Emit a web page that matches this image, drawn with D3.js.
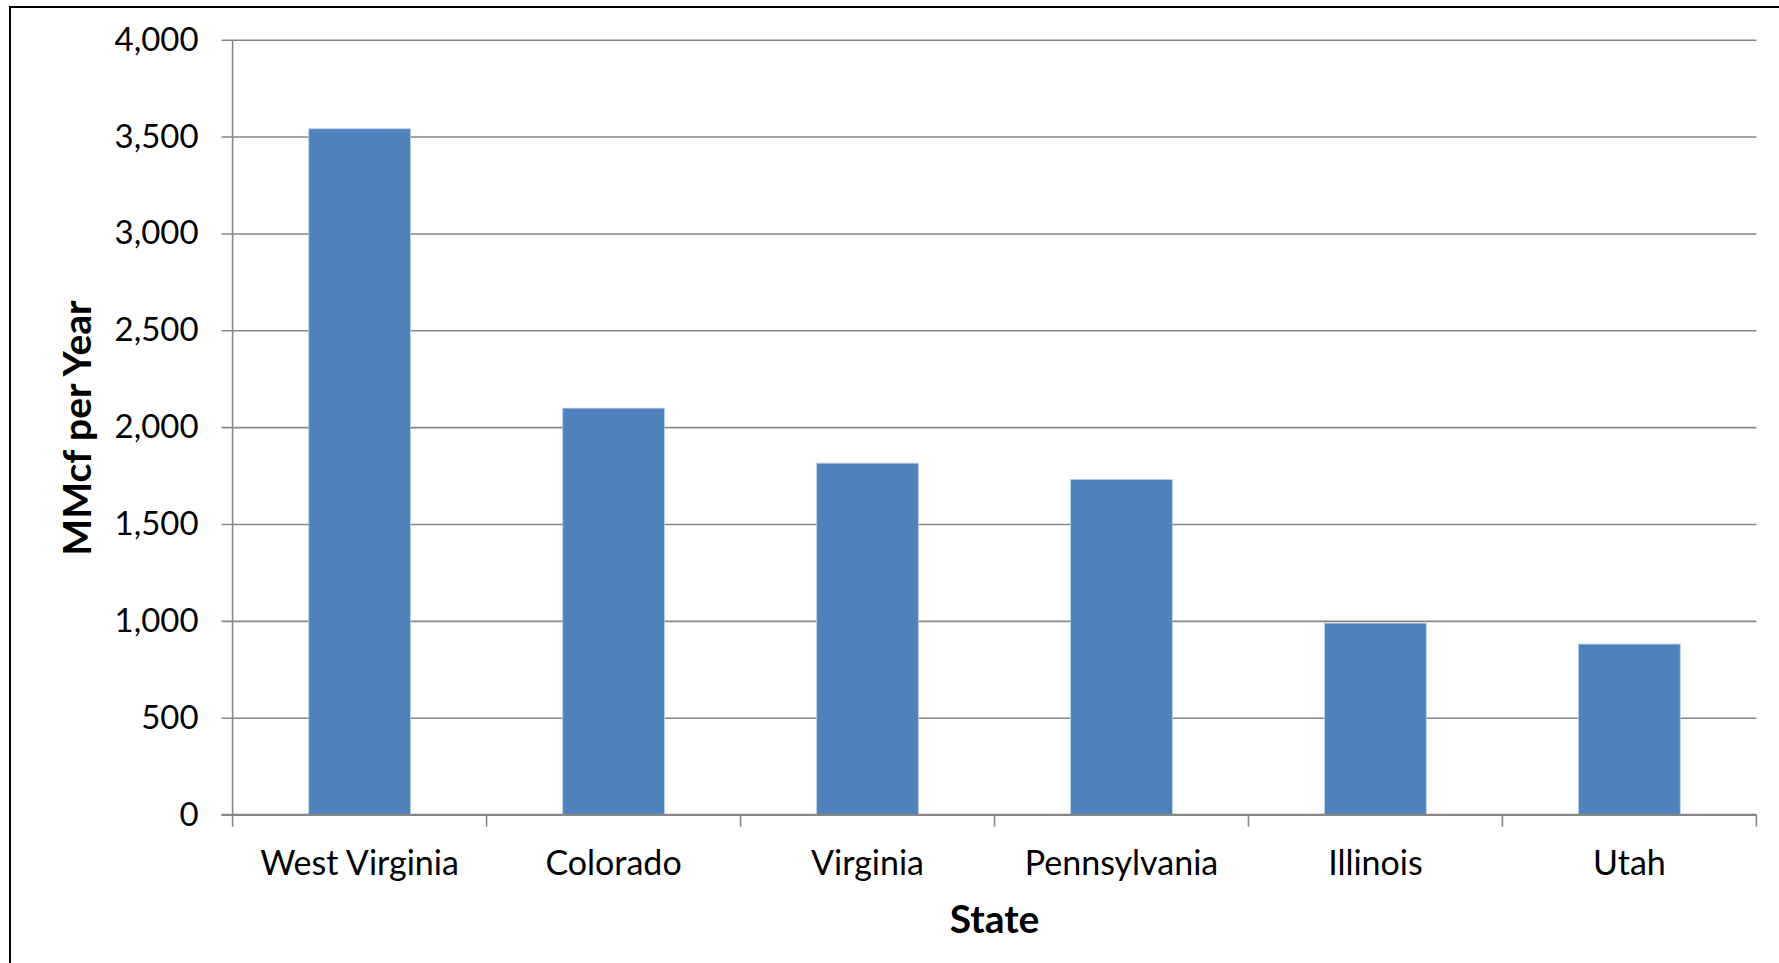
<!DOCTYPE html>
<html>
<head>
<meta charset="utf-8">
<script src="https://cdn.jsdelivr.net/npm/d3@7"></script>
<style>
  html, body { margin: 0; padding: 0; background: #ffffff; }
  svg { display: block; }
  text { font-family: Lato, "Open Sans", sans-serif; fill: #000; }
</style>
</head>
<body>
<svg id="chart" width="1779" height="963"></svg>
<script>
// Coalbed methane vented per state (MMcf per year)
const states = ["West Virginia", "Colorado", "Virginia", "Pennsylvania", "Illinois", "Utah"];
const values = [3540, 2098, 1814, 1729, 988, 880];
const yTicks = [0, 500, 1000, 1500, 2000, 2500, 3000, 3500, 4000];
const xTitle = "State";
const yTitle = "MMcf per Year";

const svg = d3.select("#chart");
const margin = { left: 232.6, right: 1756.4, top: 39.7, bottom: 814.6 };

// outer chart frame (runs off the right and bottom edges)
svg.append("rect")
  .attr("x", 10).attr("y", 7)
  .attr("width", 1800).attr("height", 1000)
  .attr("fill", "none").attr("stroke", "#000").attr("stroke-width", 2);

const x = d3.scaleBand()
  .domain(states)
  .range([margin.left, margin.right])
  .paddingInner(0.6)
  .paddingOuter(0.3);

const y = d3.scaleLinear()
  .domain([0, 4000])
  .range([margin.bottom, margin.top]);

const gridColor = "#878787";

// horizontal gridlines with left tick marks and labels
const yAxis = d3.axisLeft(y)
  .tickValues(yTicks)
  .tickSize(-(margin.right - margin.left))
  .tickFormat(d3.format(","));

const gy = svg.append("g")
  .attr("transform", `translate(${margin.left},0)`)
  .call(yAxis);
gy.select(".domain").remove();
gy.selectAll(".tick line")
  .attr("x1", -11)
  .attr("stroke", gridColor)
  .attr("stroke-width", 1.6);
gy.selectAll(".tick text")
  .attr("x", -34)
  .style("font-size", "33px")
  .attr("fill", "#000");

// vertical axis line
svg.append("line")
  .attr("x1", margin.left).attr("x2", margin.left)
  .attr("y1", margin.top).attr("y2", margin.bottom)
  .attr("stroke", gridColor).attr("stroke-width", 1.6);

// bars
svg.append("g").selectAll("rect")
  .data(states.map((s, i) => ({ s, v: values[i] })))
  .join("rect")
  .attr("x", d => x(d.s))
  .attr("width", x.bandwidth())
  .attr("y", d => y(d.v))
  .attr("height", d => y(0) - y(d.v))
  .attr("fill", "#4f81bd")
  .attr("stroke", "#b3c8e3")
  .attr("stroke-width", 0.8);

// category axis: baseline plus tick marks on category boundaries
const step = x.step();
const boundaries = d3.range(states.length + 1).map(i => margin.left + i * step);
svg.append("line")
  .attr("x1", margin.left - 11).attr("x2", margin.right)
  .attr("y1", margin.bottom).attr("y2", margin.bottom)
  .attr("stroke", gridColor).attr("stroke-width", 1.6);
svg.append("g").selectAll("line")
  .data(boundaries)
  .join("line")
  .attr("x1", d => d).attr("x2", d => d)
  .attr("y1", margin.bottom).attr("y2", margin.bottom + 12)
  .attr("stroke", gridColor).attr("stroke-width", 1.6);

svg.append("g").selectAll("text")
  .data(states)
  .join("text")
  .attr("x", d => x(d) + x.bandwidth() / 2)
  .attr("y", 875)
  .attr("text-anchor", "middle")
  .style("font-size", "34px")
  .text(d => d);

// axis titles
svg.append("text")
  .attr("x", (margin.left + margin.right) / 2)
  .attr("y", 933)
  .attr("text-anchor", "middle")
  .style("font-size", "39px")
  .style("font-weight", "bold")
  .text(xTitle);

svg.append("text")
  .attr("transform", "translate(91,428) rotate(-90)")
  .attr("text-anchor", "middle")
  .style("font-size", "39px")
  .style("font-weight", "bold")
  .text(yTitle);
</script>
</body>
</html>
